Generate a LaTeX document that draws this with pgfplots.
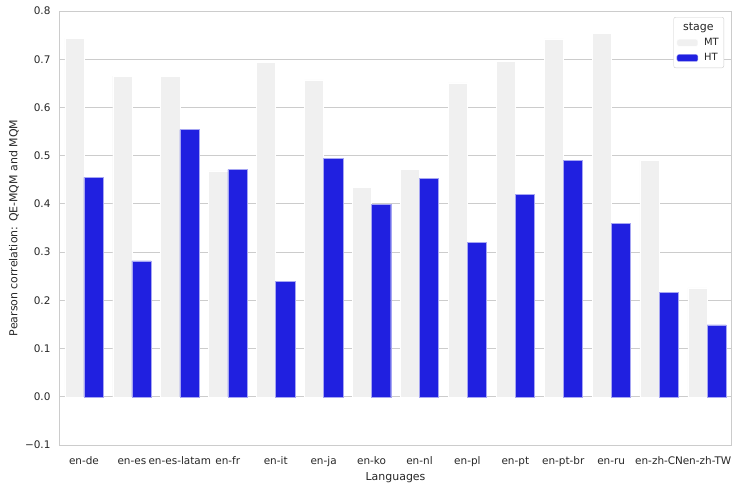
\documentclass[border=0pt]{standalone}
\usepackage{fontspec}
\setmainfont{DejaVu Sans}
\usepackage{pgfplots}
\pgfplotsset{compat=1.18}
\definecolor{mt}{HTML}{F0F0F0}
\definecolor{ht}{HTML}{2020E0}
\definecolor{txt}{HTML}{262626}
\definecolor{grd}{HTML}{CCCCCC}
\begin{document}
\begin{tikzpicture}
\useasboundingbox (-60bp,-44bp) rectangle (678bp,445bp);
\begin{axis}[
  at={(0,0)}, anchor=south west,
  scale only axis, width=671bp, height=434bp,
  xmin=-0.5, xmax=13.5, ymin=-0.1, ymax=0.8,
  xtick={0,1,2,3,4,5,6,7,8,9,10,11,12,13},
  xticklabels={en-de,en-es,en-es-latam,en-fr,en-it,en-ja,en-ko,en-nl,en-pl,en-pt,en-pt-br,en-ru,en-zh-CN,en-zh-TW},
  ytick={-0.1,0,0.1,0.2,0.3,0.4,0.5,0.6,0.7,0.8},
  yticklabels={−0.1,0.0,0.1,0.2,0.3,0.4,0.5,0.6,0.7,0.8},
  ymajorgrids, grid style={grd, line width=0.8bp},
  axis line style={grd, line width=1bp},
  major tick length=0pt,
  tick label style={font=\fontsize{10.5}{12}\selectfont, text=txt},
  xticklabel style={yshift=-8bp, text height=7.5bp, text depth=2bp},
  yticklabel style={xshift=-6bp},
  label style={font=\fontsize{11}{13}\selectfont, text=txt},
  xlabel={Languages}, ylabel={Pearson correlation: QE-MQM and MQM},
  xlabel style={at={(axis description cs:0.5,-0.0745)}, anchor=center},
  ylabel style={at={(axis description cs:-0.0686,0.5)}, anchor=center},
  legend style={at={(1,1)}, xshift=-7bp, yshift=-6bp, anchor=north east, draw=grd, rounded corners=2bp,
    font=\fontsize{10}{12}\selectfont, text=txt, fill=white, inner xsep=3bp, inner ysep=3.5bp, row sep=2.5bp, column sep=4bp},
  legend cell align=left,
  legend image code/.code={\fill[#1] (0bp,-3.5bp) rectangle (21bp,3.5bp);},
]
\addlegendimage{empty legend}
\addlegendentry{\hspace{-21bp}\fontsize{11}{13}\selectfont stage}
\addplot[ybar, bar width=0.4, bar shift=-0.2, fill=mt, draw=white, line width=0.4bp]
 coordinates {(0,0.744) (1,0.665) (2,0.665) (3,0.4685) (4,0.694) (5,0.657) (6,0.435) (7,0.472) (8,0.651) (9,0.696) (10,0.742) (11,0.754) (12,0.491) (13,0.226)};
\addlegendentry{MT}
\addplot[ybar, bar width=0.4, bar shift=0.2, fill=ht, draw=ht!40!white, line width=0.4bp]
 coordinates {(0,0.455) (1,0.282) (2,0.554) (3,0.471) (4,0.240) (5,0.494) (6,0.399) (7,0.453) (8,0.320) (9,0.420) (10,0.490) (11,0.360) (12,0.217) (13,0.149)};
\addlegendentry{HT}
\end{axis}
\end{tikzpicture}
\end{document}
